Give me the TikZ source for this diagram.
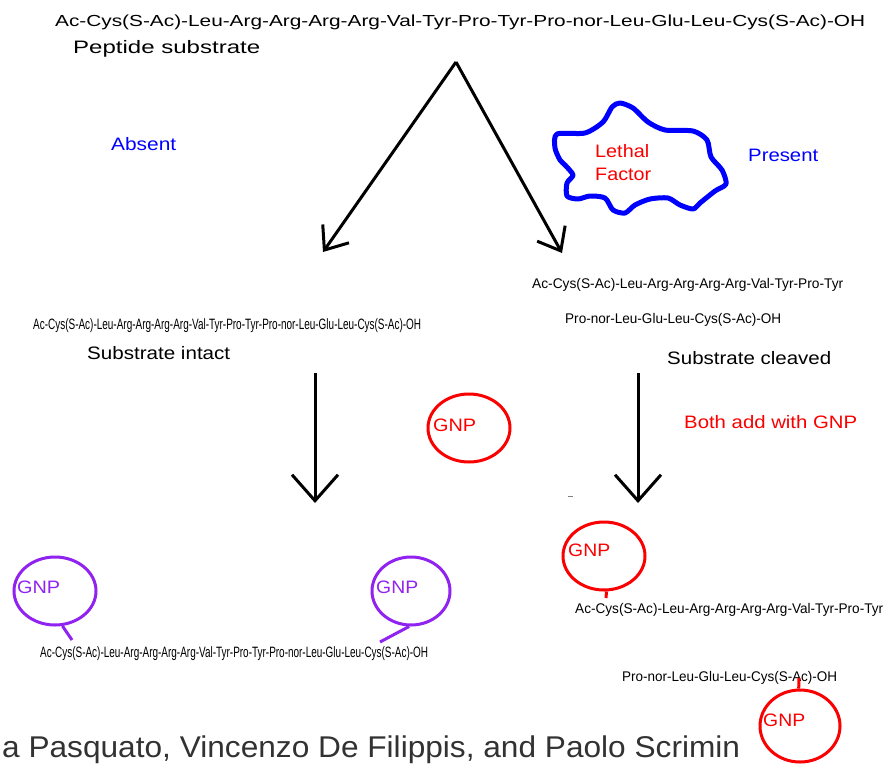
\documentclass[tikz,border=0pt]{standalone}
\usepackage{fontspec}
\setmainfont{Liberation Sans}
\usepackage{graphicx}
\usetikzlibrary{arrows.meta, shapes.geometric}
\definecolor{lfblue}{RGB}{0,0,255}
\definecolor{lfred}{RGB}{250,0,0}
\definecolor{gnpviolet}{RGB}{145,35,240}
\definecolor{credit}{RGB}{50,50,50}
\newcommand{\fitw}[2]{\resizebox{#1pt}{\height}{#2}}

\begin{document}
\begin{tikzpicture}[x=1pt, y=-1pt]
  \tikzstyle{txt}=[inner sep=0pt, anchor=base west, font=\fontsize{18}{20}\selectfont]
  \tikzstyle{pep}=[txt, font=\fontsize{16}{18}\selectfont]
  \tikzstyle{tiny}=[txt, font=\fontsize{14}{16}\selectfont]
  \tikzstyle{narrow}=[txt, font=\fontsize{15}{17}\selectfont]
  \tikzstyle{split}=[-{Straight Barb[length=20pt,width=32pt]}, line width=3pt]
  \tikzstyle{down}=[-{Straight Barb[length=26pt,width=46pt]}, line width=3pt]
  \tikzstyle{gnp}=[ellipse, draw, line width=3pt, minimum width=82pt, minimum height=68pt, inner sep=0pt]
  \tikzstyle{tail}=[line width=3pt]

  \useasboundingbox (0,0) rectangle (888,763);

  % peptide at the top
  \node[pep] (substrate) at (55,26) {\fitw{810}{Ac-Cys(S-Ac)-Leu-Arg-Arg-Arg-Arg-Val-Tyr-Pro-Tyr-Pro-nor-Leu-Glu-Leu-Cys(S-Ac)-OH}};
  \node[txt] (sublabel) at (73,53) {\fitw{187}{Peptide substrate}};

  % split into two paths
  \coordinate (apex) at (456,62);
  \coordinate (absentend) at (323,252);
  \coordinate (presentend) at (562,253);
  \draw[split] (apex) -- (absentend); % Left arrow
  \draw[split] (apex) -- (presentend); % Right arrow
  \node[txt, text=lfblue] (absent) at (111,150) {\fitw{65}{Absent}};
  \node[txt, text=lfblue] (present) at (748,161) {\fitw{70}{Present}};

  % lethal factor blob
  \draw[lfblue, line width=5pt, line join=round] plot[smooth cycle, tension=0.45] coordinates {
    (557,134) (585,133) (603,122) (612,107) (620,103) (633,108) (648,122)
    (665,130) (693,131) (707,140) (711,157) (722,170) (726,184) (715,191)
    (700,203) (693,209) (680,205) (668,198) (650,199) (635,205) (625,213)
    (613,210) (605,198) (590,196) (578,199) (567,196) (567,183) (573,175)
    (565,165) (560,160) (555,148)};
  \node[txt, text=lfred] (lethal) at (595,157) {\fitw{54}{Lethal}};
  \node[txt, text=lfred] (factor) at (595,180) {\fitw{56}{Factor}};

  % left branch: intact
  \node[narrow] (intact) at (33,329) {\fitw{388}{Ac-Cys(S-Ac)-Leu-Arg-Arg-Arg-Arg-Val-Tyr-Pro-Tyr-Pro-nor-Leu-Glu-Leu-Cys(S-Ac)-OH}};
  \node[txt] (intactlabel) at (87,359) {\fitw{143}{Substrate intact}};

  % right branch: cleaved
  \node[tiny] (partA) at (532,288) {\fitw{311}{Ac-Cys(S-Ac)-Leu-Arg-Arg-Arg-Arg-Val-Tyr-Pro-Tyr}};
  \node[tiny] (partB) at (565,323) {\fitw{216}{Pro-nor-Leu-Glu-Leu-Cys(S-Ac)-OH}};
  \node[txt] (cleavedlabel) at (667,364) {\fitw{164}{Substrate cleaved}};

  % adding gold nanoparticles
  \coordinate (intacttop) at (315,373);
  \coordinate (intactbot) at (315,503);
  \coordinate (cleavedtop) at (638,373);
  \coordinate (cleavedbot) at (638,503);
  \draw[down] (intacttop) -- (intactbot); % Left down arrow
  \draw[down] (cleavedtop) -- (cleavedbot); % Right down arrow
  \node[gnp, draw=lfred] (gnp) at (469,428) {};
  \node[txt, text=lfred] (gnptext) at (433,431) {\fitw{43}{GNP}};
  \node[txt, text=lfred] (bothadd) at (684,428) {\fitw{173}{Both add with GNP}};
  \draw[gray, line width=1pt] (568,496) -- (573,496); % stray mark

  % intact substrate with two particles
  \node[gnp, draw=gnpviolet] (gnpL) at (55,591) {};
  \node[gnp, draw=gnpviolet, minimum width=78pt] (gnpR) at (411,591) {};
  \node[txt, text=gnpviolet] (gnpLtext) at (17,593) {\fitw{43}{GNP}};
  \node[txt, text=gnpviolet] (gnpRtext) at (376,593) {\fitw{42}{GNP}};
  \node[narrow] (bound) at (40,657) {\fitw{388}{Ac-Cys(S-Ac)-Leu-Arg-Arg-Arg-Arg-Val-Tyr-Pro-Tyr-Pro-nor-Leu-Glu-Leu-Cys(S-Ac)-OH}};
  \coordinate (tailL) at (72,640);
  \coordinate (tailR) at (380,642);
  \draw[tail, gnpviolet] (gnpL.-78) -- (tailL);
  \draw[tail, gnpviolet] (gnpR.-93) -- (tailR);

  % cleaved pieces each with one particle
  \node[gnp, draw=lfred] (gnpA) at (604,556) {};
  \node[txt, text=lfred] (gnpAtext) at (568,556) {\fitw{42}{GNP}};
  \node[tiny] (boundA) at (575,613) {\fitw{308}{Ac-Cys(S-Ac)-Leu-Arg-Arg-Arg-Arg-Val-Tyr-Pro-Tyr}};
  \coordinate (tailA) at (606,598);
  \draw[tail, lfred] (gnpA.-86) -- (tailA);
  \node[tiny] (boundB) at (622,681) {\fitw{215}{Pro-nor-Leu-Glu-Leu-Cys(S-Ac)-OH}};
  \node[gnp, draw=lfred, minimum width=80pt, minimum height=72pt] (gnpB) at (800,726) {};
  \node[txt, text=lfred] (gnpBtext) at (763,726) {\fitw{42}{GNP}};
  \coordinate (tailB) at (799,678);
  \draw[tail, lfred] (gnpB.92) -- (tailB);

  % credit line, cut at the left
  \node[txt, text=credit, font=\fontsize{30}{32}\selectfont] (credit) at (2,757) {\fitw{738}{a Pasquato, Vincenzo De Filippis, and Paolo Scrimin}};
\end{tikzpicture}
\end{document}
